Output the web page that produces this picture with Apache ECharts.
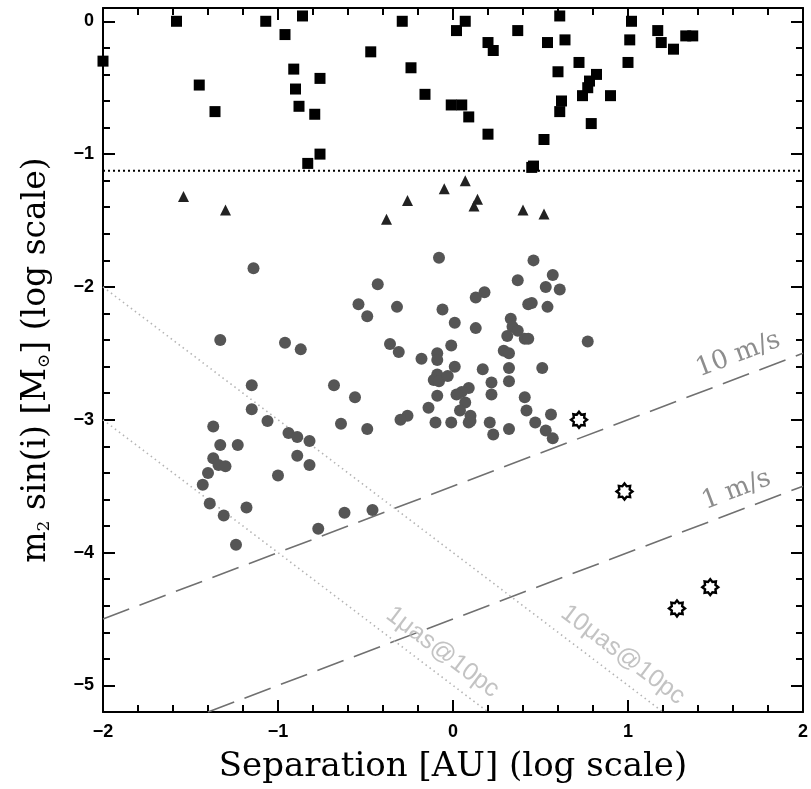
<!DOCTYPE html>
<html><head><meta charset="utf-8">
<script src="https://cdn.jsdelivr.net/npm/echarts@6/dist/echarts.min.js"></script>
<style>html,body{margin:0;padding:0;background:#fff}#c{width:811px;height:789px}</style>
</head><body><div id="c"></div>
<script>
// ---- axis ticks ----
const xMajor = [-2, -1, 0, 1, 2];
const xMinor = [-1.8,-1.6,-1.4,-1.2,-0.8,-0.6,-0.4,-0.2,0.2,0.4,0.6,0.8,1.2,1.4,1.6,1.8];
const yMajor = [-5, -4, -3, -2, -1, 0];
const yMinor = [-4.8,-4.6,-4.4,-4.2,-3.8,-3.6,-3.4,-3.2,-2.8,-2.6,-2.4,-2.2,-1.8,-1.6,-1.4,-1.2,-0.8,-0.6,-0.4,-0.2];

// ---- data: [log separation AU, log m2 sin i] ----
const squares = [[-2.00,-0.30],[-1.58,0.00],[-1.45,-0.48],[-1.36,-0.68],[-1.07,0.00],[-0.96,-0.10],[-0.86,0.04],[-0.91,-0.36],[-0.76,-0.43],[-0.90,-0.51],[-0.88,-0.64],[-0.79,-0.70],[-0.76,-1.00],[-0.83,-1.07],[-0.47,-0.23],[-0.29,0.00],[-0.24,-0.35],[-0.16,-0.55],[-0.01,-0.63],[0.05,-0.63],[0.02,-0.07],[0.07,0.00],[0.37,-0.07],[0.61,0.04],[1.02,0.00],[0.20,-0.16],[0.23,-0.22],[0.54,-0.16],[0.64,-0.14],[1.01,-0.14],[1.17,-0.07],[1.19,-0.16],[1.26,-0.21],[1.33,-0.11],[1.37,-0.11],[0.72,-0.31],[1.00,-0.31],[0.60,-0.38],[0.82,-0.40],[0.78,-0.45],[0.77,-0.50],[0.74,-0.56],[0.90,-0.56],[0.62,-0.60],[0.61,-0.68],[0.09,-0.72],[0.79,-0.77],[0.20,-0.85],[0.52,-0.89],[0.45,-1.10],[0.46,-1.09]];
const triangles = [[-1.54,-1.32],[-1.30,-1.42],[-0.38,-1.49],[-0.26,-1.35],[-0.05,-1.26],[0.07,-1.20],[0.14,-1.34],[0.12,-1.39],[0.40,-1.42],[0.52,-1.45]];
const circles = [[-0.08,-1.78],[0.46,-1.80],[-0.43,-1.98],[0.37,-1.95],[0.57,-1.91],[0.53,-2.00],[0.61,-2.02],[0.18,-2.04],[0.13,-2.08],[-0.32,-2.15],[-0.06,-2.17],[0.43,-2.13],[0.45,-2.12],[0.54,-2.15],[0.01,-2.27],[0.13,-2.31],[0.33,-2.24],[0.34,-2.30],[0.37,-2.33],[0.31,-2.37],[0.41,-2.39],[0.43,-2.39],[-0.36,-2.43],[-0.31,-2.49],[-0.01,-2.44],[-0.09,-2.50],[0.29,-2.48],[0.32,-2.50],[0.77,-2.41],[-0.18,-2.54],[-0.09,-2.55],[0.01,-2.60],[0.17,-2.62],[0.32,-2.61],[0.51,-2.61],[-0.09,-2.66],[-0.11,-2.70],[-0.08,-2.71],[-0.03,-2.67],[0.22,-2.72],[0.32,-2.71],[0.09,-2.76],[0.05,-2.79],[0.02,-2.81],[-0.09,-2.82],[0.22,-2.81],[0.41,-2.83],[0.07,-2.87],[-0.14,-2.91],[0.04,-2.93],[0.42,-2.93],[0.10,-2.97],[0.09,-3.02],[0.10,-3.01],[0.56,-2.96],[-0.26,-2.97],[-0.30,-3.00],[-0.10,-3.02],[-0.01,-3.02],[0.21,-3.02],[0.32,-3.07],[0.47,-3.02],[0.53,-3.08],[0.57,-3.14],[0.23,-3.11],
  [-1.14,-1.86],[-0.54,-2.13],[-0.49,-2.22],[-1.33,-2.40],[-0.96,-2.42],[-0.87,-2.47],[-1.15,-2.74],[-0.68,-2.74],[-0.56,-2.83],[-1.15,-2.92],[-1.06,-3.01],[-0.64,-3.03],[-0.49,-3.07],[-1.37,-3.05],[-0.94,-3.10],[-0.89,-3.13],[-0.82,-3.16],[-1.33,-3.19],[-1.23,-3.19],[-1.37,-3.29],[-1.34,-3.34],[-1.30,-3.35],[-0.89,-3.27],[-0.82,-3.34],[-1.40,-3.40],[-1.00,-3.42],[-1.43,-3.49],[-1.39,-3.63],[-1.31,-3.72],[-1.18,-3.66],[-1.24,-3.94],[-0.77,-3.82],[-0.62,-3.70],[-0.46,-3.68]];
const stars = [[0.72,-3.00],[0.98,-3.54],[1.28,-4.42],[1.47,-4.26]];

// ---- reference lines (endpoints) ----
const massLimit = [[-2,-1.125],[2,-1.125]];
const rv10 = [[-2,-4.5],[2,-2.5]];
const rv1 = [[-1.4,-5.2],[2,-3.5]];
const ast1 = [[-2,-3.0],[0.2,-5.2]];
const ast10 = [[-2,-2.0],[1.2,-5.2]];

// ---- annotation anchors ----
const notes = [
  {text:'10 m/s', at:[1.63,-2.51], rot:20.7, serif:true},
  {text:'1 m/s', at:[1.62,-3.53], rot:20.7, serif:true},
  {text:'1\u03bcas@10pc', at:[-0.06,-4.75], rot:-37, serif:false},
  {text:'10\u03bcas@10pc', at:[0.97,-4.77], rot:-37, serif:false}
];

const fmt = v => (v < 0 ? '\u2212' + Math.abs(v) : String(v));
const tickFont = {fontFamily:'Liberation Sans', fontWeight:'bold', fontSize:18, color:'#000'};
const XMIN=-2, XMAX=2, YMIN=-5.2, YMAX=0.1;

function xAx(pos, major, showLabel){
  return {type:'value', position:pos, min:XMIN, max:XMAX, splitLine:{show:false},
    axisLine:{show:major, onZero:false, lineStyle:{color:'#000', width:2}},
    axisTick:{show:true, inside:true, length: major?12:7, customValues: major?xMajor:xMinor, lineStyle:{color:'#000', width:2}},
    axisLabel:{show:showLabel, customValues:xMajor, formatter:fmt, margin:11, ...tickFont}};
}
function yAx(pos, major, showLabel){
  return {type:'value', position:pos, min:YMIN, max:YMAX, splitLine:{show:false},
    axisLine:{show:major, onZero:false, lineStyle:{color:'#000', width:2}},
    axisTick:{show:true, inside:true, length: major?12:7, customValues: major?yMajor:yMinor, lineStyle:{color:'#000', width:2}},
    axisLabel:{show:showLabel, customValues:yMajor, formatter:fmt, margin:9, ...tickFont}};
}

const xAxes = [xAx('bottom',true,true), xAx('bottom',false,false), xAx('top',true,false), xAx('top',false,false)];
const yAxes = [yAx('left',true,true), yAx('left',false,false), yAx('right',true,false), yAx('right',false,false)];
xAxes[0].name = 'Separation [AU] (log scale)';
xAxes[0].nameLocation = 'middle';
xAxes[0].nameGap = 38;
xAxes[0].nameTextStyle = {fontFamily:'DejaVu Serif', fontSize:34, color:'#000'};
yAxes[0].name = '{m|m}{s|2}{m| sin(i) [M}{s|\u2299}{m|] (log scale)}';
yAxes[0].nameLocation = 'middle';
yAxes[0].nameGap = 50;
yAxes[0].nameTextStyle = {fontFamily:'DejaVu Serif', fontSize:33, color:'#000',
  rich:{m:{fontFamily:'DejaVu Serif', fontSize:33, color:'#000'}, s:{fontFamily:'DejaVu Serif', fontSize:17, color:'#000', verticalAlign:'bottom', padding:[14,0,0,0]}}};

function lineSeries(data, color, type, width){
  return {type:'line', data, symbol:'none', silent:true, z:1, animation:false,
    lineStyle:{color, type, width}};
}

const series = [
  lineSeries(massLimit, '#000', [2,3], 2),
  lineSeries(rv10, '#707070', [28,11], 1.6),
  lineSeries(rv1, '#707070', [28,11], 1.6),
  lineSeries(ast1, '#b4b4b4', [1.5,3.5], 1.6),
  lineSeries(ast10, '#b4b4b4', [1.5,3.5], 1.6),
  {type:'scatter', data:squares, symbol:'rect', symbolSize:11, itemStyle:{color:'#000', opacity:1}, z:3, animation:false},
  {type:'scatter', data:triangles, symbol:'triangle', symbolSize:11, itemStyle:{color:'#222', opacity:1}, z:3, animation:false},
  {type:'scatter', data:circles, symbol:'circle', symbolSize:12, itemStyle:{color:'#555', opacity:1}, z:3, animation:false},
  {type:'scatter', data:stars, symbol:'path://M10,0 L12.68,3.53 L17.07,2.93 L16.47,7.32 L20,10 L16.47,12.68 L17.07,17.07 L12.68,16.47 L10,20 L7.32,16.47 L2.93,17.07 L3.53,12.68 L0,10 L3.53,7.32 L2.93,2.93 L7.32,3.53 Z',
    symbolSize:16, itemStyle:{color:'#fff', borderColor:'#000', borderWidth:2.4, opacity:1}, z:4, animation:false}
];
notes.forEach(n => series.push({type:'scatter', data:[n.at], symbolSize:0, silent:true, z:2, animation:false,
  label:{show:true, position:'inside', formatter:n.text, rotate:n.rot,
    fontFamily: n.serif ? 'DejaVu Serif' : 'Liberation Sans', fontSize: n.serif ? 26 : 25,
    color: n.serif ? '#707070' : '#b4b4b4'}}));

const chart = echarts.init(document.getElementById('c'), null, {renderer:'canvas'});
chart.setOption({
  animation:false,
  backgroundColor:'#fff',
  grid:{left:103, right:4, top:8, bottom:77, containLabel:false},
  xAxis:xAxes, yAxis:yAxes, series
});
</script></body></html>
